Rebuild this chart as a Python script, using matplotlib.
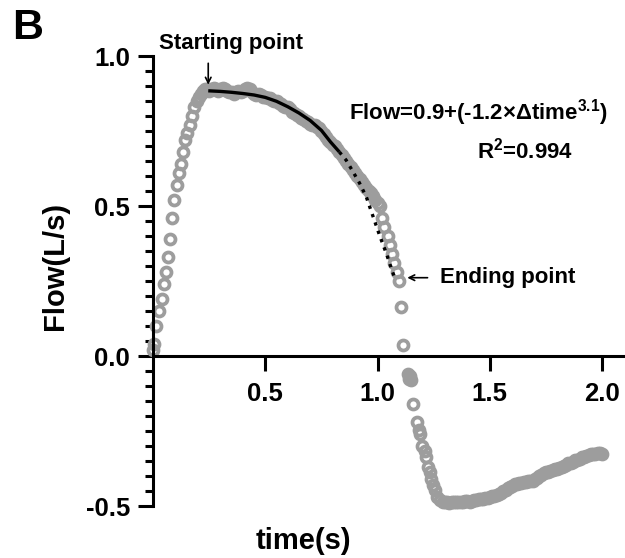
import numpy as np
import matplotlib
matplotlib.use("Agg")
import matplotlib.pyplot as plt

plt.rcParams['font.family'] = ['Liberation Sans', 'DejaVu Sans']
plt.rcParams['font.weight'] = 'bold'
plt.rcParams['mathtext.fontset'] = 'custom'
plt.rcParams['mathtext.rm'] = 'Liberation Sans:bold'
plt.rcParams['mathtext.it'] = 'Liberation Sans:bold'
plt.rcParams['mathtext.bf'] = 'Liberation Sans:bold'
plt.rcParams['mathtext.default'] = 'rm'

#------------------------
# data (time in s, flow in L/s)
rise_t = [0.000, 0.004, 0.014, 0.026, 0.038, 0.047, 0.058, 0.068, 0.076, 0.083,
          0.094, 0.105, 0.116, 0.126, 0.133, 0.142, 0.152, 0.163, 0.174, 0.184,
          0.194, 0.203, 0.212, 0.222, 0.232, 0.241]
rise_flow = [0.02, 0.04, 0.10, 0.15, 0.19, 0.24, 0.28, 0.33, 0.39, 0.46,
             0.52, 0.57, 0.61, 0.64, 0.68, 0.72, 0.745, 0.77, 0.80, 0.83,
             0.85, 0.865, 0.875, 0.885, 0.89, 0.89]

plateau_t = [0.25, 0.26, 0.27, 0.28, 0.29, 0.30, 0.31, 0.32, 0.33, 0.34,
             0.35, 0.36, 0.37, 0.38, 0.39, 0.40, 0.41, 0.42, 0.43, 0.44,
             0.45, 0.46, 0.47, 0.48, 0.49, 0.50, 0.51, 0.52, 0.53, 0.54,
             0.55, 0.56, 0.57, 0.58, 0.59, 0.60, 0.61, 0.62, 0.63, 0.64,
             0.65, 0.66, 0.67, 0.68, 0.69, 0.70, 0.71, 0.72, 0.73, 0.74,
             0.75, 0.76, 0.77, 0.78, 0.79, 0.80, 0.81, 0.82, 0.83, 0.84,
             0.85, 0.86, 0.87, 0.88, 0.89, 0.90, 0.91, 0.92, 0.93, 0.94,
             0.95, 0.96, 0.97, 0.98, 0.99, 1.00]
plateau_flow = [0.885, 0.89, 0.895, 0.89, 0.885, 0.89, 0.895, 0.89, 0.885, 0.88,
                0.88, 0.875, 0.88, 0.885, 0.88, 0.885, 0.89, 0.895, 0.89, 0.88,
                0.875, 0.87, 0.875, 0.87, 0.865, 0.865, 0.86, 0.86, 0.855, 0.85,
                0.85, 0.845, 0.84, 0.835, 0.83, 0.83, 0.825, 0.815, 0.81, 0.805,
                0.80, 0.795, 0.79, 0.785, 0.78, 0.775, 0.77, 0.77, 0.765, 0.76,
                0.75, 0.74, 0.73, 0.72, 0.715, 0.705, 0.70, 0.69, 0.68, 0.67,
                0.66, 0.65, 0.64, 0.63, 0.62, 0.61, 0.60, 0.59, 0.58, 0.57,
                0.56, 0.55, 0.545, 0.535, 0.52, 0.51]

drop_t = [1.01, 1.02, 1.03, 1.045, 1.055, 1.065, 1.075, 1.085, 1.095, 1.105,
          1.115, 1.135, 1.14, 1.145, 1.15, 1.16, 1.175, 1.185, 1.19, 1.20,
          1.21, 1.215, 1.225, 1.235, 1.24, 1.245, 1.255, 1.265, 1.28, 1.29]
drop_flow = [0.50, 0.46, 0.43, 0.40, 0.37, 0.34, 0.31, 0.28, 0.25, 0.165,
             0.037, -0.06, -0.075, -0.065, -0.08, -0.16, -0.22, -0.245, -0.26, -0.30,
             -0.315, -0.335, -0.37, -0.385, -0.41, -0.43, -0.445, -0.47, -0.48, -0.485]

tail_t = [1.30, 1.31, 1.32, 1.33, 1.34, 1.35, 1.36, 1.37, 1.38, 1.39,
          1.40, 1.41, 1.42, 1.43, 1.44, 1.45, 1.46, 1.47, 1.48, 1.49,
          1.50, 1.51, 1.52, 1.53, 1.54, 1.55, 1.56, 1.57, 1.58, 1.59,
          1.60, 1.61, 1.62, 1.63, 1.64, 1.65, 1.66, 1.67, 1.68, 1.69,
          1.70, 1.71, 1.72, 1.73, 1.74, 1.75, 1.76, 1.77, 1.78, 1.79,
          1.80, 1.81, 1.82, 1.83, 1.84, 1.85, 1.86, 1.87, 1.88, 1.89,
          1.90, 1.91, 1.92, 1.93, 1.94, 1.95, 1.96, 1.97, 1.98, 1.99,
          2.00]
tail_flow = [-0.485, -0.488, -0.49, -0.487, -0.488, -0.486, -0.487, -0.485, -0.486, -0.484,
             -0.483, -0.485, -0.482, -0.48, -0.481, -0.478, -0.477, -0.476, -0.473, -0.472,
             -0.47, -0.468, -0.466, -0.463, -0.46, -0.455, -0.45, -0.447, -0.44, -0.436,
             -0.432, -0.428, -0.425, -0.423, -0.422, -0.42, -0.419, -0.418, -0.417, -0.415,
             -0.41, -0.405, -0.40, -0.395, -0.39, -0.387, -0.385, -0.383, -0.38, -0.378,
             -0.375, -0.372, -0.37, -0.366, -0.362, -0.358, -0.355, -0.352, -0.348, -0.345,
             -0.342, -0.338, -0.335, -0.332, -0.33, -0.328, -0.326, -0.325, -0.324, -0.323,
             -0.325]

# fitted curve
fit_t = [0.246, 0.30, 0.35, 0.40, 0.45, 0.50, 0.55, 0.60, 0.65, 0.70, 0.75, 0.79, 0.83]
fit_flow = [0.884, 0.882, 0.879, 0.875, 0.870, 0.862, 0.849, 0.831, 0.81, 0.785, 0.752, 0.714, 0.68]
fit_dot_t = [0.83, 0.86, 0.89, 0.92, 0.95, 0.98, 1.01, 1.04, 1.06, 1.077]
fit_dot_flow = [0.68, 0.653, 0.615, 0.576, 0.53, 0.465, 0.40, 0.34, 0.295, 0.259]

#------------------------
t_all = rise_t + plateau_t + drop_t + tail_t
flow_all = rise_flow + plateau_flow + drop_flow + tail_flow

fig = plt.figure(figsize=(6.25, 5.58), dpi=100)
ax = fig.add_axes([153/625, 52/558, 470/625, 450/558])

gray = '#9d9d9d'
ax.plot(t_all, flow_all, 'o', ms=7.2, mfc='none', mec=gray, mew=2.7, zorder=2, clip_on=False)
ax.plot(fit_t, fit_flow, '-', color='black', lw=2.4, zorder=3, solid_capstyle='butt')
ax.plot(fit_dot_t, fit_dot_flow, ':', color='black', lw=2.4, zorder=3)

ax.set_xlim(0, 2.093)
ax.set_ylim(-0.5, 1.0)

ax.spines['top'].set_visible(False)
ax.spines['right'].set_visible(False)
ax.spines['bottom'].set_position(('data', 0))
ax.spines['left'].set_linewidth(2.2)
ax.spines['bottom'].set_linewidth(2.2)

ax.set_xticks([0.5, 1.0, 1.5, 2.0])
ax.set_xticklabels(['0.5', '1.0', '1.5', '2.0'])
ax.set_yticks([-0.5, 0.0, 0.5, 1.0])
ax.set_yticklabels(['-0.5', '0.0', '0.5', '1.0'])
ax.set_yticks(np.arange(-0.5, 1.0001, 0.05), minor=True)
ax.tick_params(axis='both', which='major', direction='out', length=10.5, width=2.2,
               labelsize=18.5, pad=6)
ax.tick_params(axis='x', which='major', pad=8)
ax.tick_params(axis='y', which='minor', direction='out', length=6, width=2.2)
ax.tick_params(axis='x', which='minor', length=0)
for lab in ax.get_xticklabels() + ax.get_yticklabels():
    lab.set_fontweight('bold')

# annotations
ax.text(0.346, 1.022, 'Starting point', fontsize=16, fontweight='bold',
        ha='center', va='baseline', clip_on=False)
ax.annotate('', xy=(0.246, 0.895), xytext=(0.246, 0.985),
            arrowprops=dict(arrowstyle='->', color='black', lw=1.2), annotation_clip=False)
ax.text(1.278, 0.263, 'Ending point', fontsize=16, fontweight='bold',
        ha='left', va='center')
ax.annotate('', xy=(1.12, 0.261), xytext=(1.235, 0.261),
            arrowprops=dict(arrowstyle='->', color='black', lw=1.2))
ax.text(1.45, 0.789, 'Flow=0.9+(-1.2\u00d7\u0394time$^{3.1}$)', fontsize=16,
        fontweight='bold', ha='center', va='baseline')
ax.text(1.656, 0.659, 'R$^{2}$=0.994', fontsize=16, fontweight='bold',
        ha='center', va='baseline')

fig.text(55/625, 1 - 266/558, 'Flow(L/s)', rotation=90, fontsize=21,
         fontweight='bold', ha='center', va='center')
fig.text(303/625, 1 - 541/558, 'time(s)', fontsize=21, fontweight='bold',
         ha='center', va='center')
fig.text(12/625, 1 - 39/558, 'B', fontsize=31, fontweight='bold',
         ha='left', va='baseline')

plt.savefig('out.png', dpi=100)
